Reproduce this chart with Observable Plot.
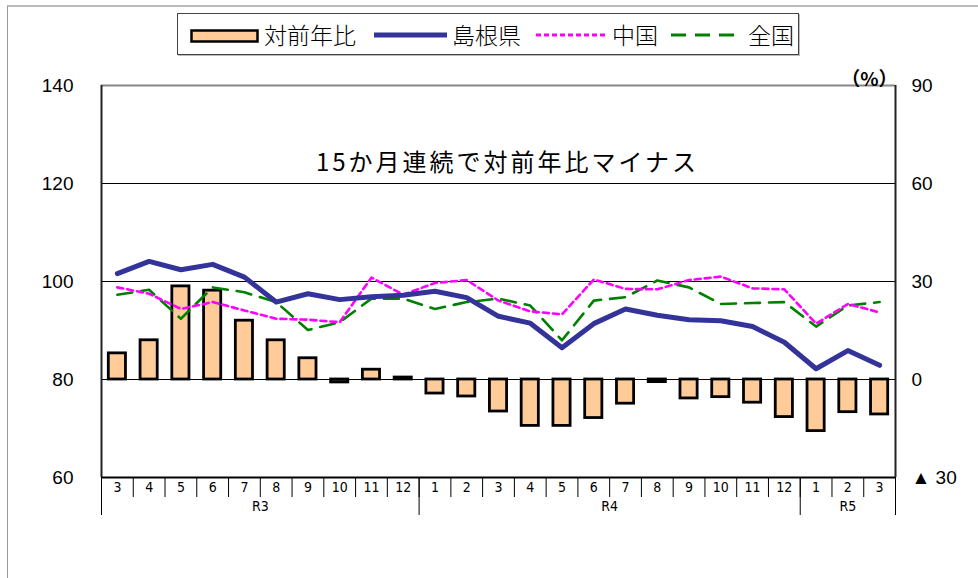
<!DOCTYPE html>
<html>
<head>
<meta charset="utf-8">
<script src="https://cdn.jsdelivr.net/npm/d3@7"></script>
<script src="https://cdn.jsdelivr.net/npm/@observablehq/plot@0.6"></script>
<style>
  html, body { margin: 0; padding: 0; background: #fff; }
  body { width: 978px; height: 578px; position: relative; overflow: hidden; font-family: "Liberation Sans", Arial, sans-serif; }
  #border { position: absolute; left: 7px; top: 5px; width: 1000px; height: 600px; border-left: 1px solid #999; border-top: 2px solid #bbb; }
  #chart { position: absolute; left: 0; top: 0; }
  #legend { position: absolute; left: 177px; top: 13px; width: 620px; height: 40px; border: 1px solid #444; background: #fff; box-shadow: 1px 1px 0 #bbb; }
  .lt { position: absolute; top: 6px; font-family: "Noto Sans CJK JP", sans-serif; font-size: 23px; font-weight: 300; line-height: 28px; color: #000; }
  .ls { position: absolute; }
</style>
</head>
<body>
<div id="border"></div>
<div id="chart"></div>
<div id="legend">
  <svg class="ls" style="left:12px;top:15px" width="72" height="15"><rect x="1.5" y="1.5" width="66" height="11" fill="#FFCC99" stroke="#000" stroke-width="2.5"/></svg>
  <div class="lt" style="left:86px">対前年比</div>
  <svg class="ls" style="left:196px;top:17px" width="74" height="8"><line x1="0" y1="4" x2="73" y2="4" stroke="#333399" stroke-width="5"/></svg>
  <div class="lt" style="left:274px">島根県</div>
  <svg class="ls" style="left:358px;top:18px" width="72" height="6"><line x1="0" y1="3" x2="70" y2="3" stroke="#FF00FF" stroke-width="3" stroke-dasharray="5,3"/></svg>
  <div class="lt" style="left:434px">中国</div>
  <svg class="ls" style="left:493px;top:18px" width="72" height="6"><line x1="0" y1="3" x2="70" y2="3" stroke="#008000" stroke-width="3" stroke-dasharray="15,9"/></svg>
  <div class="lt" style="left:570px">全国</div>
</div>
<script>
// ---- data ----
const months = ["3","4","5","6","7","8","9","10","11","12","1","2","3","4","5","6","7","8","9","10","11","12","1","2","3"];
const eras = ["R3", "R4", "R5"];
const eraMonths = [10, 12, 3];
// 対前年比 (%), right axis
const yoy = [8.0, 12.0, 28.5, 27.2, 18.0, 12.0, 6.5, -0.9, 3.0, 0.6, -4.3, -5.2, -9.8, -14.2, -14.2, -11.8, -7.4, -0.8, -5.8, -5.4, -7.1, -11.5, -15.8, -10.0, -10.7];
// 指数, left axis
const shimane = [101.6, 104.1, 102.4, 103.5, 100.9, 95.8, 97.5, 96.3, 96.9, 97.2, 98.0, 96.7, 92.9, 91.5, 86.5, 91.4, 94.4, 93.1, 92.2, 92.0, 90.8, 87.6, 82.2, 85.9, 82.9];
const chugoku = [98.8, 97.5, 94.4, 95.8, 94.1, 92.4, 92.2, 91.7, 100.8, 97.3, 99.7, 100.3, 96.1, 93.9, 93.3, 100.4, 98.5, 98.4, 100.3, 101.0, 98.6, 98.4, 91.4, 95.4, 93.7];
const zenkoku = [97.3, 98.3, 92.4, 98.8, 97.8, 95.8, 90.1, 91.7, 96.5, 96.5, 94.4, 95.8, 96.5, 95.1, 88.0, 96.1, 96.8, 100.2, 98.8, 95.4, 95.6, 95.8, 90.8, 95.1, 95.8];
const leftTicks = [60, 80, 100, 120, 140];
const rightTicks = [-30, 0, 30, 60, 90];
const annotation = "15か月連続で対前年比マイナス";
const unitLabel = "（%）";

// ---- helpers ----
const toLeft = p => 80 + p / 1.5;   // right-axis % -> left-axis units
const data = months.map((m, i) => ({i, m, yoy: yoy[i], shimane: shimane[i], chugoku: chugoku[i], zenkoku: zenkoku[i]}));
const bounds = d3.range(months.length + 1);
const eraBounds = [0, ...d3.cumsum(eraMonths)];
const eraCenters = eras.map((e, k) => (eraBounds[k] + eraBounds[k + 1]) / 2);
const monthCenters = months.map((m, i) => i + 0.5);

const narrow = '"Liberation Sans Narrow", "DejaVu Sans Condensed", "Liberation Sans", sans-serif';

const chart = Plot.plot({
  width: 978,
  height: 578,
  marginLeft: 101,
  marginRight: 83,
  marginTop: 85,
  marginBottom: 101,
  style: {fontFamily: '"Liberation Sans", Arial, sans-serif', background: "transparent", overflow: "visible"},
  x: {type: "linear", domain: [0, months.length]},
  y: {domain: [60, 140]},
  marks: [
    Plot.ruleY([100, 120], {stroke: "#000", strokeWidth: 1}),
    Plot.rectY(data, {
      x1: d => d.i, x2: d => d.i + 1,
      y1: 80, y2: d => toLeft(d.yoy),
      fill: "#FFCC99", stroke: "#000", strokeWidth: 2.8,
      insetLeft: 7.3, insetRight: 7.3
    }),
    Plot.ruleY([80], {stroke: "#000", strokeWidth: 1}),
    Plot.lineY(data, {x: d => d.i + 0.5, y: "zenkoku", stroke: "#008000", strokeWidth: 2.6, strokeDasharray: "15,9"}),
    Plot.lineY(data, {x: d => d.i + 0.5, y: "chugoku", stroke: "#FF00FF", strokeWidth: 2.6, strokeDasharray: "6,4"}),
    Plot.lineY(data, {x: d => d.i + 0.5, y: "shimane", stroke: "#333399", strokeWidth: 5}),
    // frame
    Plot.ruleY([140], {stroke: "#888", strokeWidth: 2}),
    Plot.ruleX([0, months.length], {stroke: "#222", strokeWidth: 2}),
    Plot.ruleY([60], {stroke: "#000", strokeWidth: 2}),
    // axes
    Plot.axisY({anchor: "left", ticks: leftTicks, tickSize: 0, tickPadding: 28, fontSize: 19}),
    Plot.axisY({anchor: "right", ticks: rightTicks.map(toLeft), tickSize: 0, tickPadding: 16, fontSize: 19,
      tickFormat: (d, k) => { const p = rightTicks[k]; return p < 0 ? "▲ " + (-p) : String(p); }}),
    Plot.axisX({ticks: bounds, tickSize: 20, tickFormat: () => "", stroke: "#000"}),
    Plot.axisX({ticks: eraBounds, tickSize: 38, tickFormat: () => "", stroke: "#000"}),
    Plot.axisX({ticks: monthCenters, tickSize: 0, tickPadding: 5, fontSize: 14, fontFamily: narrow,
      tickFormat: (d, k) => months[k]}),
    Plot.axisX({ticks: eraCenters, tickSize: 0, tickPadding: 24, fontSize: 14, fontFamily: narrow,
      tickFormat: (d, k) => eras[k]}),
    // texts
    Plot.text([annotation], {frameAnchor: "top", dx: 9, dy: 68, fontSize: 24, fontFamily: '"Noto Sans CJK JP", sans-serif', fill: "#000"}),
    Plot.text([unitLabel], {frameAnchor: "top-right", dx: 2, dy: -13, textAnchor: "end", fontSize: 19, fontWeight: "bold", fontFamily: '"Noto Sans CJK JP", sans-serif', fill: "#000"})
  ]
});
d3.select(chart).selectAll("text").filter(function(){ return this.textContent === annotation; }).style("letter-spacing", "3px");
document.getElementById("chart").appendChild(chart);
</script>
</body>
</html>
